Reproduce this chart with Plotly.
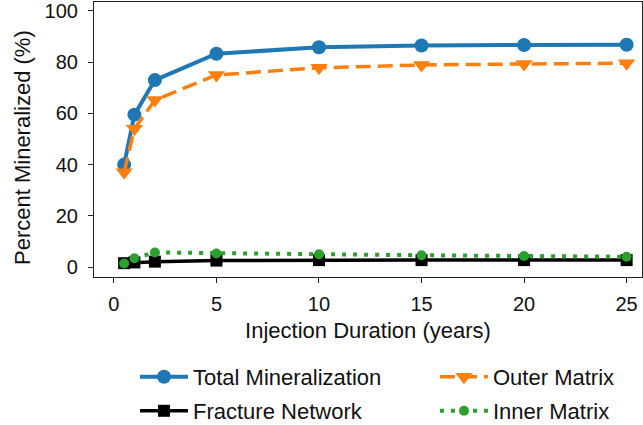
import plotly.graph_objects as go

# Injection duration (years) and mineralized fraction (%) per region
years = [0.5, 1, 2, 5, 10, 15, 20, 25]
total_mineralization = [40.0, 59.5, 73.0, 83.3, 85.8, 86.5, 86.7, 86.8]
fracture_network = [1.5, 1.8, 2.1, 2.5, 2.7, 2.7, 2.7, 2.7]
outer_matrix = [37.0, 54.0, 65.2, 75.0, 77.8, 78.9, 79.3, 79.6]
inner_matrix = [1.4, 3.4, 5.7, 5.3, 5.0, 4.6, 4.3, 4.0]

x_ticks = [0, 5, 10, 15, 20, 25]
y_ticks = [0, 20, 40, 60, 80, 100]

FONT = "Liberation Sans, Arial, sans-serif"
W, H = 643, 425
M_L, M_R, M_T, M_B = 94, 1, 2, 148

fig = go.Figure()

fig.add_trace(go.Scatter(
    x=years, y=total_mineralization, name="Total Mineralization",
    mode="lines+markers", legend="legend",
    line=dict(color="#1f77b4", width=4),
    marker=dict(symbol="circle", size=14, color="#1f77b4"),
))
fig.add_trace(go.Scatter(
    x=years, y=fracture_network, name="Fracture Network",
    mode="lines+markers", legend="legend2",
    line=dict(color="black", width=3.5),
    marker=dict(symbol="square", size=12, color="black"),
))
fig.add_trace(go.Scatter(
    x=years, y=outer_matrix, name="Outer Matrix",
    mode="lines+markers", legend="legend3",
    line=dict(color="#ff7f0e", width=3.5, dash="15px,7px"),
    marker=dict(symbol="triangle-down", size=15, color="#ff7f0e"),
))
fig.add_trace(go.Scatter(
    x=years, y=inner_matrix, name="Inner Matrix",
    mode="lines+markers", legend="legend4",
    line=dict(color="#2ca02c", width=4, dash="4px,7px"),
    marker=dict(symbol="circle", size=10, color="#2ca02c"),
))

axis_common = dict(
    showgrid=False, zeroline=False, showline=True, mirror=True,
    linecolor="#222222", linewidth=1.2,
    ticks="outside", ticklen=5, tickwidth=1.2, tickcolor="#222222",
    tickfont=dict(family=FONT, size=20, color="#111111"),
    ticklabeloverflow="allow",
)


def legend_at(px_x, px_y):
    # one legend box per entry, placed in container pixels
    return dict(
        xref="container", yref="container",
        x=px_x / W, y=1 - px_y / H, xanchor="left", yanchor="middle",
        font=dict(family=FONT, size=22, color="#111111"),
        itemwidth=48, bgcolor="rgba(0,0,0,0)", borderwidth=0,
    )


plot_w = W - M_L - M_R
plot_h = H - M_T - M_B

fig.update_layout(
    width=W, height=H,
    margin=dict(l=M_L, r=M_R, t=M_T, b=M_B, autoexpand=False),
    paper_bgcolor="white", plot_bgcolor="white",
    font=dict(family=FONT, size=20, color="#111111"),
    showlegend=True,
    xaxis=dict(
        range=[-0.97, 25.75], tickvals=x_ticks, ticklabelstandoff=4,
        title=dict(text="Injection Duration (years)", standoff=8,
                   font=dict(family=FONT, size=22)),
        **axis_common,
    ),
    yaxis=dict(
        range=[-3.9, 103.5], tickvals=y_ticks, ticklabelstandoff=6,
        **axis_common,
    ),
    annotations=[dict(
        text="Percent Mineralized (%)", textangle=-90, showarrow=False,
        xref="paper", yref="paper",
        x=(22 - M_L) / plot_w, y=1 - (148 - M_T) / plot_h,
        xanchor="center", yanchor="middle",
        font=dict(family=FONT, size=22, color="#111111"),
    )],
    legend=legend_at(135, 377),
    legend2=legend_at(135, 411),
    legend3=legend_at(435, 377),
    legend4=legend_at(435, 411),
)

fig.write_html("out.html")
